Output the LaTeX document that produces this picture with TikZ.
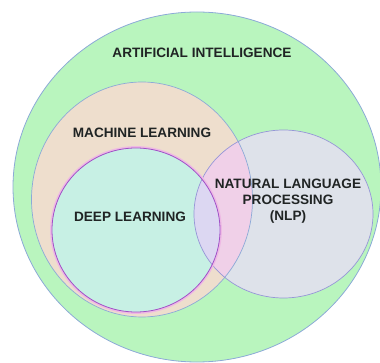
\documentclass[tikz,border=0pt]{standalone}
\usepackage{fontspec}
\setmainfont{Liberation Sans}
\definecolor{aigreen}{RGB}{185,245,190}
\definecolor{mlbeige}{RGB}{238,222,205}
\definecolor{dlcyan}{RGB}{199,240,228}
\definecolor{nlpgray}{RGB}{222,226,234}
\definecolor{mlnlppink}{RGB}{240,208,232}
\definecolor{dlnlplav}{RGB}{220,215,242}
\definecolor{edgeblue}{RGB}{140,170,215}
\definecolor{nlpedge}{RGB}{150,150,215}
\definecolor{dledge}{RGB}{160,80,200}
\definecolor{dlhalo}{RGB}{238,185,228}
\definecolor{txt}{RGB}{32,36,36}
\tikzset{
  lbl/.style={font=\fontsize{13.6}{16}\selectfont\bfseries, text=txt, align=center, inner sep=0pt}
}
\begin{document}
\begin{tikzpicture}[x=1pt,y=-1pt]
\useasboundingbox (0,0) rectangle (380,363);
\def\AI{(197,187) ellipse [x radius=184, y radius=175]}
\def\ML{(142,199.5) ellipse [x radius=110.5, y radius=117.5]}
\def\DL{(136,230) ellipse [x radius=84, y radius=82]}
\def\NLP{(283.5,214) ellipse [x radius=89.5, y radius=84]}
% fills
\fill[aigreen] \AI;
\fill[mlbeige] \ML;
\fill[nlpgray] \NLP;
\begin{scope}
  \clip \ML;
  \fill[mlnlppink] \NLP;
\end{scope}
\fill[dlcyan] \DL;
\begin{scope}
  \clip \DL;
  \fill[dlnlplav] \NLP;
\end{scope}
% strokes
\draw[edgeblue, line width=0.8pt] \AI;
\draw[edgeblue, line width=0.7pt] \ML;
\draw[nlpedge, line width=0.7pt] \NLP;
\draw[dlhalo, line width=1.8pt] (136,230) ellipse [x radius=85, y radius=83];
\draw[dledge, line width=0.8pt] \DL;
% labels
\node[lbl] (ai) at (202,53) {ARTIFICIAL INTELLIGENCE};
\node[lbl] (ml) at (142,133) {MACHINE LEARNING};
\node[lbl] (dl) at (130,217) {DEEP LEARNING};
\node[lbl] (nlp) at (288,201) {NATURAL LANGUAGE\\PROCESSING\\(NLP)};
\end{tikzpicture}
\end{document}
